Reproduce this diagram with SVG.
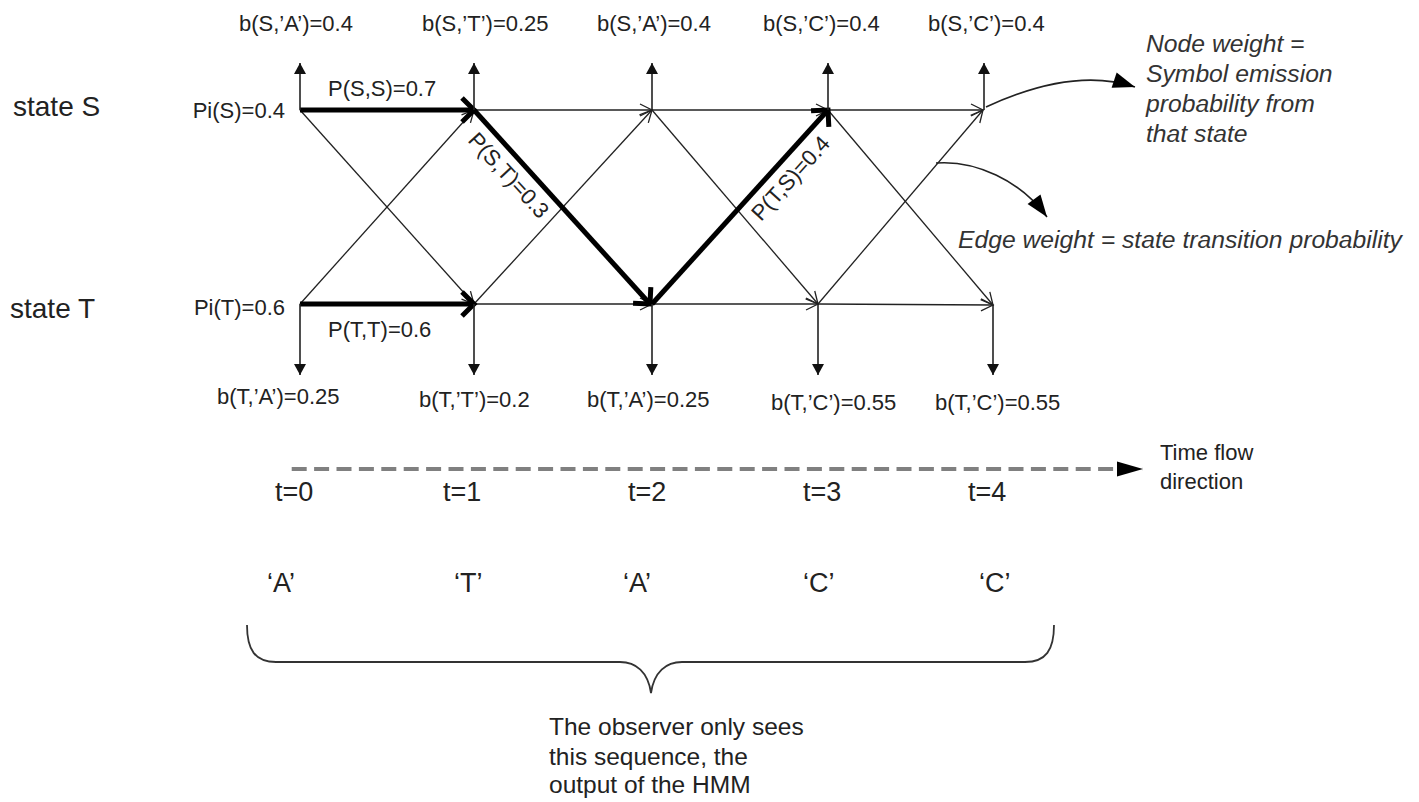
<svg xmlns="http://www.w3.org/2000/svg" width="1419" height="802" viewBox="0 0 1419 802">
<style>
  .lbl{font-family:"Liberation Sans",Arial,sans-serif;font-size:22px;fill:#222}
  .big{font-family:"Liberation Sans",Arial,sans-serif;font-size:27px;fill:#222}
  .state{font-family:"Liberation Sans",Arial,sans-serif;font-size:28px;fill:#222}
  .ital{font-family:"Liberation Sans",Arial,sans-serif;font-size:24.7px;font-style:italic;fill:#333}
  .obs{font-family:"Liberation Sans",Arial,sans-serif;font-size:24.5px;fill:#222}
  .thin{stroke:#222;stroke-width:1.3;fill:none;marker-end:url(#openHead)}
  .bold{stroke:#000;stroke-width:5;fill:none;marker-end:url(#boldHead)}
  .emit{stroke:#222;stroke-width:1.6;fill:none;marker-end:url(#solidHead)}
  .note{stroke:#222;stroke-width:1.6;fill:none;marker-end:url(#noteHead)}
</style>
<defs>
  <marker id="openHead" markerUnits="userSpaceOnUse" viewBox="-14 -8 16 16" markerWidth="16" markerHeight="16" refX="0" refY="0" orient="auto" overflow="visible">
    <path d="M-12,-6 L0,0 L-12,6" fill="none" stroke="#222" stroke-width="1.3"/>
  </marker>
  <marker id="boldHead" markerUnits="userSpaceOnUse" viewBox="-16 -16 20 32" markerWidth="20" markerHeight="32" refX="0" refY="0" orient="auto" overflow="visible">
    <path d="M-12,-12 L0,0 L-12,12" fill="none" stroke="#000" stroke-width="5" stroke-linejoin="miter"/>
  </marker>
  <marker id="solidHead" markerUnits="userSpaceOnUse" viewBox="-12 -7 14 14" markerWidth="14" markerHeight="14" refX="0" refY="0" orient="auto" overflow="visible">
    <path d="M-11,-6 L0,0 L-11,6 Z" fill="#111"/>
  </marker>
  <marker id="noteHead" markerUnits="userSpaceOnUse" viewBox="-24 -9 26 18" markerWidth="26" markerHeight="18" refX="0" refY="0" orient="auto" overflow="visible">
    <path d="M-22,-8 L0,0 L-22,8 Z" fill="#000"/>
  </marker>
  <marker id="timeHead" markerUnits="userSpaceOnUse" viewBox="-28 -9 30 18" markerWidth="30" markerHeight="18" refX="0" refY="0" orient="auto" overflow="visible">
    <path d="M-26,-7.5 L0,0 L-26,7.5 Z" fill="#000"/>
  </marker>
</defs>
<rect width="1419" height="802" fill="#fff"/>

<!-- state row labels -->
<g id="row-labels">
  <text class="state" x="13" y="116">state S</text>
  <text class="state" x="10" y="318">state T</text>
  <text class="lbl" x="285" y="118" text-anchor="end">Pi(S)=0.4</text>
  <text class="lbl" x="285" y="315" text-anchor="end">Pi(T)=0.6</text>
</g>

<!-- connectors: state transitions -->
<g id="connectors">
  <path class="thin" d="M474,110 L652,110"/>
  <path class="thin" d="M652,110 L828,110"/>
  <path class="thin" d="M828,110 L983,110"/>
  <path class="thin" d="M474,304 L652,304"/>
  <path class="thin" d="M652,304 L818,304"/>
  <path class="thin" d="M818,304 L993,305"/>
  <path class="thin" d="M300,110 L474,304"/>
  <path class="thin" d="M300,304 L474,110"/>
  <path class="thin" d="M474,304 L652,110"/>
  <path class="thin" d="M652,110 L818,304"/>
  <path class="thin" d="M828,110 L993,305"/>
  <path class="thin" d="M818,304 L983,110"/>
  <path class="bold" d="M300,110 L474,110"/>
  <path class="bold" d="M300,304 L474,304"/>
  <path class="bold" d="M474,110 L650,304"/>
  <path class="bold" d="M652,304 L828,110"/>
  <text class="lbl" x="328" y="96">P(S,S)=0.7</text>
  <text class="lbl" x="328" y="337">P(T,T)=0.6</text>
  <text class="lbl" x="467" y="141" transform="rotate(47.46 467 141)">P(S,T)=0.3</text>
  <text class="lbl" x="761" y="222" transform="rotate(-47.8 761 222)">P(T,S)=0.4</text>
</g>

<!-- S nodes with emission -->
<g id="node-S0"><path class="emit" d="M300,110 L300,63"/><text class="lbl" x="239" y="31">b(S,’A’)=0.4</text></g>
<g id="node-S1"><path class="emit" d="M474,110 L474,63"/><text class="lbl" x="422" y="31">b(S,’T’)=0.25</text></g>
<g id="node-S2"><path class="emit" d="M652,110 L652,63"/><text class="lbl" x="597" y="31">b(S,’A’)=0.4</text></g>
<g id="node-S3"><path class="emit" d="M828,110 L828,63"/><text class="lbl" x="763" y="31">b(S,’C’)=0.4</text></g>
<g id="node-S4"><path class="emit" d="M984,110 L984,63"/><text class="lbl" x="928" y="31">b(S,’C’)=0.4</text></g>

<!-- T nodes with emission -->
<g id="node-T0"><path class="emit" d="M300,304 L300,375"/><text class="lbl" x="217" y="404">b(T,’A’)=0.25</text></g>
<g id="node-T1"><path class="emit" d="M474,304 L474,375"/><text class="lbl" x="419" y="407">b(T,’T’)=0.2</text></g>
<g id="node-T2"><path class="emit" d="M652,304 L652,375"/><text class="lbl" x="587" y="407">b(T,’A’)=0.25</text></g>
<g id="node-T3"><path class="emit" d="M818,304 L818,375"/><text class="lbl" x="771" y="410">b(T,’C’)=0.55</text></g>
<g id="node-T4"><path class="emit" d="M993,305 L993,375"/><text class="lbl" x="935" y="410">b(T,’C’)=0.55</text></g>

<!-- annotations -->
<g id="note-node-weight">
  <path class="note" d="M986,107 C1040,82 1090,72 1135,87"/>
  <text class="ital" x="1146" y="52">Node weight =</text>
  <text class="ital" x="1146" y="82">Symbol emission</text>
  <text class="ital" x="1146" y="112">probability from</text>
  <text class="ital" x="1146" y="142">that state</text>
</g>
<g id="note-edge-weight">
  <path class="note" d="M936,163 C975,160 1020,180 1047,217"/>
  <text class="ital" x="958" y="248">Edge weight = state transition probability</text>
</g>

<!-- time axis -->
<g id="time-axis">
  <path d="M291.7,469 L1143,469" stroke="#808080" stroke-width="4" stroke-dasharray="15 7.4" fill="none" marker-end="url(#timeHead)"/>
  <text class="lbl" x="1160" y="460">Time flow</text>
  <text class="lbl" x="1160" y="489">direction</text>
  <text class="big" x="275" y="501">t=0</text>
  <text class="big" x="443" y="501">t=1</text>
  <text class="big" x="628" y="501">t=2</text>
  <text class="big" x="803" y="501">t=3</text>
  <text class="big" x="968" y="501">t=4</text>
</g>

<!-- observed sequence -->
<g id="sequence">
  <text class="big" x="267" y="592">‘A’</text>
  <text class="big" x="454" y="592">‘T’</text>
  <text class="big" x="623" y="592">‘A’</text>
  <text class="big" x="803" y="592">‘C’</text>
  <text class="big" x="979" y="592">‘C’</text>
</g>

<g id="brace">
  <path d="M247,625 C247,650 255,662 276,662 L620,662 C636,662 648,672 651,693 C654,672 666,662 682,662 L1025,662 C1046,662 1054,650 1054,625" fill="none" stroke="#333" stroke-width="1.8"/>
  <text class="obs" x="549" y="735">The observer only sees</text>
  <text class="obs" x="549" y="765">this sequence, the</text>
  <text class="obs" x="549" y="793">output of the HMM</text>
</g>
</svg>
